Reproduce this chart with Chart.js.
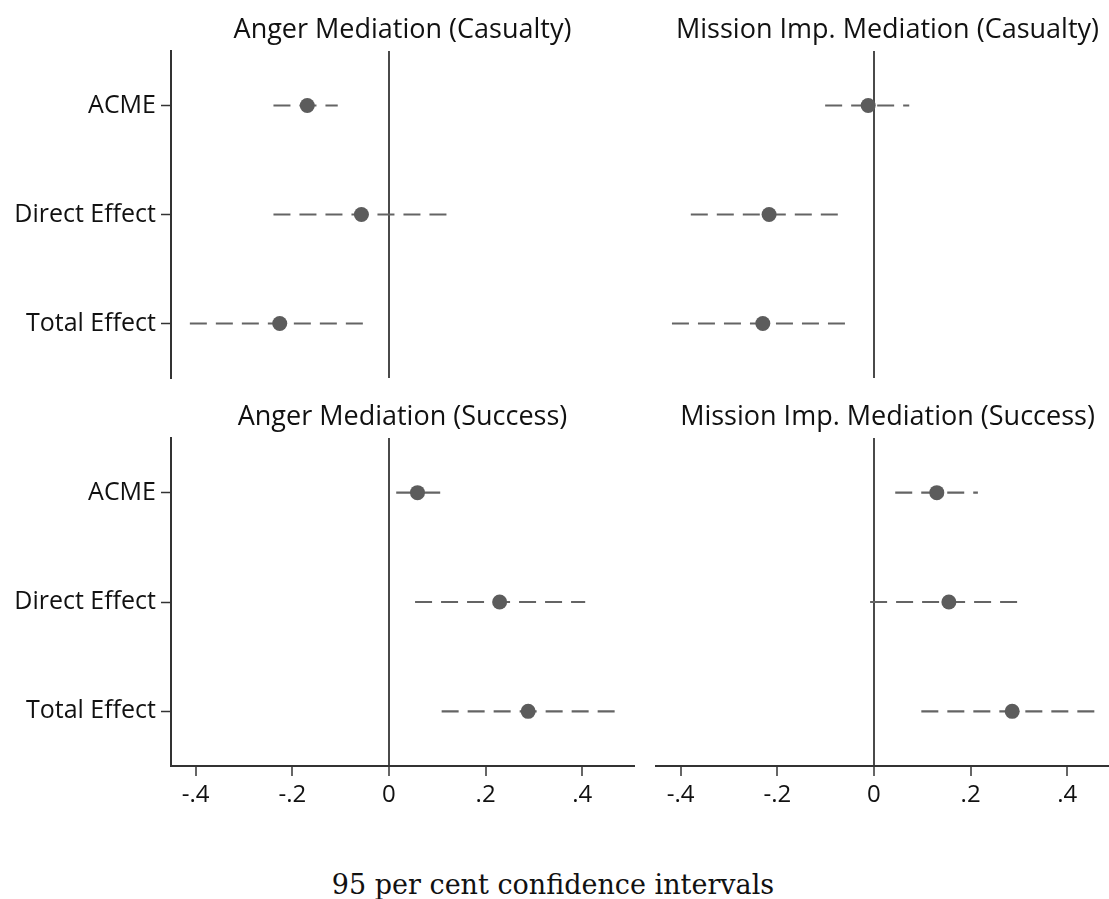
<!DOCTYPE html>
<html>
<head>
<meta charset="utf-8">
<script src="https://cdn.jsdelivr.net/npm/chart.js@4"></script>
<style>
  html, body { margin: 0; padding: 0; background: #fff; width: 1109px; height: 899px; overflow: hidden; }
  canvas { position: absolute; }
  #caption {
    position: absolute; left: 0; width: 1106px; top: 870px;
    text-align: center; font: 27px "DejaVu Serif", serif; line-height: 30px; color: #111;
  }
</style>
</head>
<body>
<canvas id="angerCasualty" width="645" height="398" style="left:0;top:0"></canvas>
<canvas id="missionCasualty" width="490" height="398" style="left:640px;top:0"></canvas>
<canvas id="angerSuccess" width="645" height="430" style="left:0;top:387px"></canvas>
<canvas id="missionSuccess" width="490" height="430" style="left:640px;top:387px"></canvas>
<div id="caption">95 per cent confidence intervals</div>

<script>
const rowLabels = ["ACME", "Direct Effect", "Total Effect"];
const xTickValues = [-0.4, -0.2, 0, 0.2, 0.4];

const angerCasualtyEst = [-0.169, -0.057, -0.226];
const angerCasualtyLow = [-0.239, -0.239, -0.412];
const angerCasualtyHigh = [-0.106, 0.124, -0.046];

const missionCasualtyEst = [-0.012, -0.217, -0.230];
const missionCasualtyLow = [-0.101, -0.379, -0.418];
const missionCasualtyHigh = [0.073, -0.070, -0.052];

const angerSuccessEst = [0.059, 0.229, 0.288];
const angerSuccessLow = [0.015, 0.054, 0.109];
const angerSuccessHigh = [0.106, 0.406, 0.468];

const missionSuccessEst = [0.130, 0.155, 0.286];
const missionSuccessLow = [0.044, -0.008, 0.098];
const missionSuccessHigh = [0.215, 0.301, 0.463];

const axisColor = "#333";
const zeroColor = "#4a4a4a";
const markColor = "#5c5c5c";
const ciColor = "#646464";
const textColor = "#111";
const sansFamily = "'Open Sans', Roboto, sans-serif";
const sansFont = { family: sansFamily, size: 25 };

function fmtTick(v) {
  if (v === 0) return "0";
  return v.toFixed(1).replace("0.", ".");
}

// title centred over the plot area, not over the whole canvas
const panelTitle = {
  id: "panelTitle",
  afterDraw(chart, args, opts) {
    const { ctx, chartArea } = chart;
    ctx.save();
    ctx.font = "27px " + sansFamily;
    ctx.fillStyle = textColor;
    ctx.textAlign = "center";
    ctx.textBaseline = "alphabetic";
    ctx.fillText(opts.text, (chartArea.left + chartArea.right) / 2, chartArea.top - 13);
    ctx.restore();
  },
};

function makePanel(id, title, est, low, high, showY, showX) {
  const datasets = [{
    data: est.map((v, i) => ({ x: v, y: rowLabels[i] })),
    pointRadius: 7.5,
    pointHoverRadius: 7.5,
    backgroundColor: markColor,
    borderWidth: 0,
  }];

  rowLabels.forEach((lab, i) => {
    datasets.push({
      data: [{ x: low[i], y: lab }, { x: high[i], y: lab }],
      showLine: true,
      pointRadius: 0,
      borderColor: ciColor,
      borderWidth: 2.2,
      borderDash: (high[i] - low[i]) < 0.1 ? [] : [17, 9],
    });
  });

  new Chart(document.getElementById(id), {
    type: "scatter",
    data: { datasets },
    plugins: [panelTitle],
    options: {
      responsive: false,
      animation: false,
      layout: {
        padding: { top: 51, left: showY ? 0 : 16, right: 11, bottom: showX ? 0 : 20 },
      },
      plugins: {
        legend: { display: false },
        tooltip: { enabled: false },
        title: { display: false },
        panelTitle: { text: title },
      },
      scales: {
        x: {
          type: "linear",
          min: -0.451,
          max: 0.507,
          afterBuildTicks: (s) => { s.ticks = xTickValues.map((v) => ({ value: v })); },
          afterFit: (s) => { s.height = showX ? 51 : 0; },
          border: { display: showX, color: axisColor, width: 2 },
          grid: {
            color: (c) => (c.tick && c.tick.value === 0 ? zeroColor : "rgba(0,0,0,0)"),
            lineWidth: 2,
            drawTicks: showX,
            tickLength: 10,
            tickColor: axisColor,
            tickWidth: 1.5,
          },
          ticks: {
            display: showX,
            color: textColor,
            font: { family: sansFamily, size: 24 },
            padding: 5,
            maxRotation: 0,
            callback: (v) => fmtTick(v),
          },
        },
        y: {
          type: "category",
          labels: rowLabels,
          offset: true,
          display: showY,
          afterFit: (s) => { if (showY) s.width = 171; },
          border: { display: true, color: axisColor, width: 2 },
          grid: {
            drawOnChartArea: false,
            drawTicks: true,
            tickLength: 10,
            tickColor: axisColor,
            tickWidth: 1.5,
          },
          ticks: { color: textColor, font: sansFont, padding: 5 },
        },
      },
    },
  });
}

makePanel("angerCasualty", "Anger Mediation (Casualty)", angerCasualtyEst, angerCasualtyLow, angerCasualtyHigh, true, false);
makePanel("missionCasualty", "Mission Imp. Mediation (Casualty)", missionCasualtyEst, missionCasualtyLow, missionCasualtyHigh, false, false);
makePanel("angerSuccess", "Anger Mediation (Success)", angerSuccessEst, angerSuccessLow, angerSuccessHigh, true, true);
makePanel("missionSuccess", "Mission Imp. Mediation (Success)", missionSuccessEst, missionSuccessLow, missionSuccessHigh, false, true);
</script>
</body>
</html>
